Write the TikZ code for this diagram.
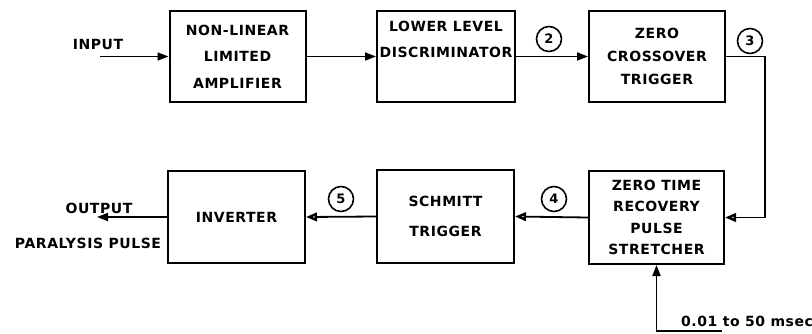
\documentclass[tikz,border=0pt]{standalone}
\usepackage{fontspec}
\usetikzlibrary{arrows.meta}
\newfontfamily\dfont{DejaVu Sans}[LetterSpace=4]
\newcommand\boxfont{\dfont\bfseries\fontsize{14}{16}\selectfont}
\newcommand\tagfont{\dfont\bfseries\fontsize{13}{15}\selectfont}
\tikzset{
  block/.style={draw, line width=2pt, minimum width=136pt, minimum height=91pt,
    inner sep=0pt, align=center, font=\boxfont},
  spacing/.style={font={\boxfont\fontsize{14}{#1}\selectfont}},
  tag/.style={circle, draw, line width=1.6pt, minimum size=25pt, inner sep=0pt, font=\tagfont},
  plain/.style={inner sep=0pt, font=\boxfont},
  wire/.style={line width=1.8pt},
  fed/.style={wire, -{Triangle[length=11pt,width=8pt]}},
  fedopen/.style={wire, -{Triangle[open,length=11pt,width=8.5pt,line width=2.4pt]}},
}
\begin{document}
\begin{tikzpicture}[x=1pt,y=-1pt]
  \useasboundingbox (0,0) rectangle (812,333);

  % upper row
  \node[block, spacing=26.5pt] (amp) at (237.5,56.5) {NON-LINEAR\\LIMITED\\AMPLIFIER};
  \node[block, spacing=26.5pt, minimum width=138pt] (lld) at (446,56.5) {LOWER LEVEL\\DISCRIMINATOR\\\strut};
  \node[block, spacing=23pt] (zct) at (657,56.5) {ZERO\\CROSSOVER\\TRIGGER};

  % lower row
  \node[block, spacing=21.3pt, minimum width=135pt, minimum height=93pt] (zts) at (656.5,217.5)
    {ZERO TIME\\RECOVERY\\PULSE\\STRETCHER};
  \node[block, spacing=30pt, minimum width=137pt, minimum height=93pt] (sch) at (445.5,216.5)
    {SCHMITT\\TRIGGER};
  \node[block, minimum width=137pt, minimum height=92pt] (inv) at (236.5,217) {INVERTER};

  % outer labels
  \node[plain] (inlbl) at (98,44) {INPUT};
  \node[plain] (outlbl) at (99,208) {OUTPUT};
  \node[plain] (parlbl) at (88,243) {PARALYSIS PULSE};
  \node[plain] (ctllbl) at (747,321) {0.01 to 50 msec};

  % signal tags
  \node[tag] (t2) at (549,39) {2};
  \node[tag] (t3) at (750,41) {3};
  \node[tag] (t4) at (554,199) {4};
  \node[tag] (t5) at (341,199) {5};

  % free ends
  \coordinate (inpt) at (100,56.5);
  \coordinate (outpt) at (97,217);
  \coordinate (ctl) at (722,331);

  % connectors
  \draw[fed] (inpt) -- (amp.west);
  \draw[fed] (amp.east) -- (lld.west);
  \draw[fed] (lld.east) -- (zct.west);
  \draw[fedopen] (zct.east) -- ++(39,0) |- (zts.east);
  \draw[fedopen] (zts.west) -- (sch.east);
  \draw[fedopen] (sch.west) -- (inv.east);
  \draw[fed] (inv.west) -- (outpt);
  \draw[fed] (ctl) -| (zts.south);
\end{tikzpicture}
\end{document}
